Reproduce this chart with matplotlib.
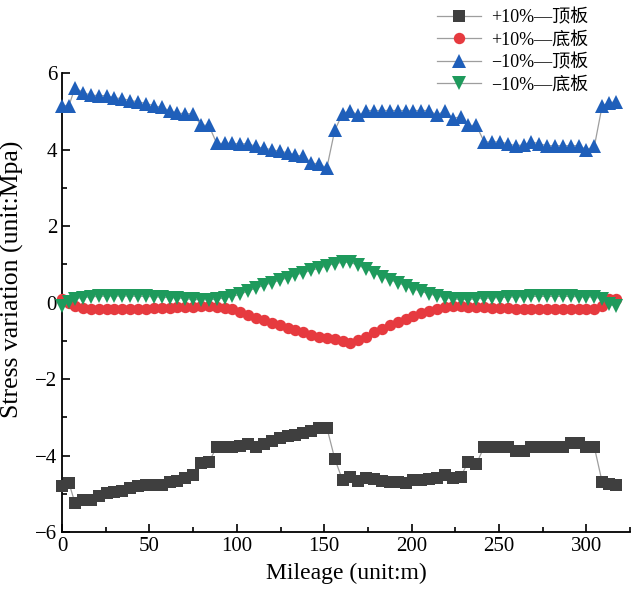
import matplotlib
matplotlib.use("Agg")
import matplotlib.pyplot as plt
from matplotlib.ticker import MultipleLocator

plt.rcParams['font.family'] = ['Liberation Serif', 'Noto Sans CJK SC', 'DejaVu Sans']
plt.rcParams['axes.unicode_minus'] = True

mileage = [0, 4, 7.5, 12, 16.5, 21, 25.5, 30, 34.5, 39, 43.5, 48, 52.5, 57, 61.5, 66,
           70.5, 75, 79.5, 84, 88.5, 93, 97.5, 102, 106.5, 111, 115.5, 120, 124.5, 129,
           133.5, 138, 142.5, 147, 151.5, 156, 160.5, 165, 169.5, 174, 178.5, 183, 187.5,
           192, 196.5, 201, 205.5, 210, 214.5, 219, 223.5, 228, 232.5, 237, 241.5, 246,
           250.5, 255, 259.5, 264, 268.5, 273, 277.5, 282, 286.5, 291, 295.5, 300, 304.5,
           309, 313, 317]

plus_top = [-4.8, -4.72, -5.25, -5.17, -5.17, -5.07, -4.98, -4.95, -4.92, -4.86, -4.8, -4.78,
            -4.78, -4.76, -4.68, -4.67, -4.6, -4.5, -4.2, -4.17, -3.78, -3.77, -3.77, -3.75,
            -3.69, -3.77, -3.7, -3.62, -3.55, -3.48, -3.47, -3.4, -3.36, -3.28, -3.27, -4.08,
            -4.65, -4.55, -4.67, -4.6, -4.62, -4.66, -4.68, -4.68, -4.72, -4.65, -4.63, -4.62,
            -4.6, -4.52, -4.6, -4.55, -4.16, -4.22, -3.77, -3.77, -3.77, -3.78, -3.87, -3.87,
            -3.77, -3.77, -3.77, -3.77, -3.77, -3.68, -3.68, -3.77, -3.78, -4.7, -4.75, -4.78]

plus_bottom = [0.1, 0.0, -0.1, -0.14, -0.16, -0.17, -0.17, -0.17, -0.17, -0.17, -0.16, -0.16,
               -0.15, -0.15, -0.14, -0.13, -0.12, -0.11, -0.1, -0.1, -0.11, -0.14, -0.18, -0.24,
               -0.32, -0.4, -0.47, -0.53, -0.6, -0.66, -0.72, -0.78, -0.84, -0.89, -0.93, -0.95,
               -1.0, -1.07, -0.98, -0.89, -0.78, -0.68, -0.58, -0.5, -0.42, -0.34, -0.27, -0.21,
               -0.16, -0.12, -0.1, -0.1, -0.11, -0.12, -0.13, -0.14, -0.15, -0.15, -0.16, -0.16,
               -0.16, -0.16, -0.16, -0.16, -0.16, -0.16, -0.16, -0.16, -0.16, -0.1, 0.08, 0.1]

minus_top = [5.15, 5.15, 5.62, 5.49, 5.42, 5.41, 5.41, 5.35, 5.33, 5.28, 5.25, 5.2, 5.15, 5.1,
             5.02, 4.95, 4.94, 4.93, 4.64, 4.63, 4.16, 4.16, 4.16, 4.15, 4.15, 4.08, 4.03, 4.0,
             3.95, 3.92, 3.85, 3.83, 3.65, 3.62, 3.52, 4.5, 4.94, 5.02, 4.89, 5.02, 5.02, 5.02,
             5.02, 5.02, 5.02, 5.02, 5.02, 5.02, 4.9, 5.02, 4.81, 4.86, 4.63, 4.63, 4.2, 4.2,
             4.2, 4.15, 4.1, 4.12, 4.2, 4.15, 4.1, 4.1, 4.1, 4.1, 4.1, 4.0, 4.08, 5.15, 5.22, 5.25]

minus_bottom = [-0.1, 0.02, 0.1, 0.13, 0.15, 0.16, 0.17, 0.17, 0.17, 0.17, 0.16, 0.16, 0.15,
                0.14, 0.13, 0.12, 0.1, 0.08, 0.07, 0.07, 0.09, 0.12, 0.16, 0.22, 0.3, 0.38,
                0.45, 0.52, 0.58, 0.65, 0.72, 0.78, 0.84, 0.9, 0.96, 1.02, 1.05, 1.05, 0.97,
                0.88, 0.78, 0.68, 0.6, 0.52, 0.44, 0.36, 0.29, 0.23, 0.17, 0.13, 0.1, 0.08,
                0.08, 0.1, 0.11, 0.12, 0.13, 0.14, 0.15, 0.15, 0.16, 0.16, 0.16, 0.16, 0.16,
                0.16, 0.15, 0.15, 0.14, 0.1, -0.05, -0.1]

labels = ['+10%—顶板', '+10%—底板', '−10%—顶板', '−10%—底板']
colors = ['#3f3f3f', '#e63a3f', '#1f5fba', '#1e9a5c']
markers = ['s', 'o', '^', 'v']
sizes = [8.5, 8.2, 9.5, 9.5]
series = [plus_top, plus_bottom, minus_top, minus_bottom]

fig = plt.figure(figsize=(6.37, 6.0), dpi=100)
ax = fig.add_axes([0.0973, 0.1133, 0.892, 0.765])

handles = []
for vals, c, m, s, lab in zip(series, colors, markers, sizes, labels):
    h, = ax.plot(mileage, vals, color=(0.62, 0.62, 0.62), marker=m, markersize=s,
                 markeredgewidth=0, markerfacecolor=c, linewidth=0.9, label=lab,
                 clip_on=False, zorder=3)
    handles.append(h)

ax.set_xlim(0, 325)
ax.set_ylim(-6, 6)
ax.xaxis.set_major_locator(MultipleLocator(50))
ax.xaxis.set_minor_locator(MultipleLocator(25))
ax.yaxis.set_major_locator(MultipleLocator(2))
ax.yaxis.set_minor_locator(MultipleLocator(1))
ax.tick_params(which='both', direction='in', labelsize=15, width=1.2)
ax.tick_params(which='major', length=6)
ax.tick_params(which='minor', length=3.5)
ax.spines['top'].set_visible(False)
ax.spines['right'].set_visible(False)
ax.spines['left'].set_linewidth(1.3)
ax.spines['bottom'].set_linewidth(1.3)

ax.set_xlabel('Mileage (unit:m)', fontsize=17, labelpad=5)
ax.set_ylabel('Stress variation (unit:Mpa)', fontsize=18.5, labelpad=1)
ax.yaxis.set_label_coords(-0.066, 0.55)

fig.legend(handles=handles, labels=labels, loc='upper left',
           bbox_to_anchor=(0.668, 1.005), frameon=False, fontsize=13,
           handlelength=2.4, handletextpad=0.6, labelspacing=0.3, borderpad=0.15)

fig.savefig('out.png', dpi=100)
